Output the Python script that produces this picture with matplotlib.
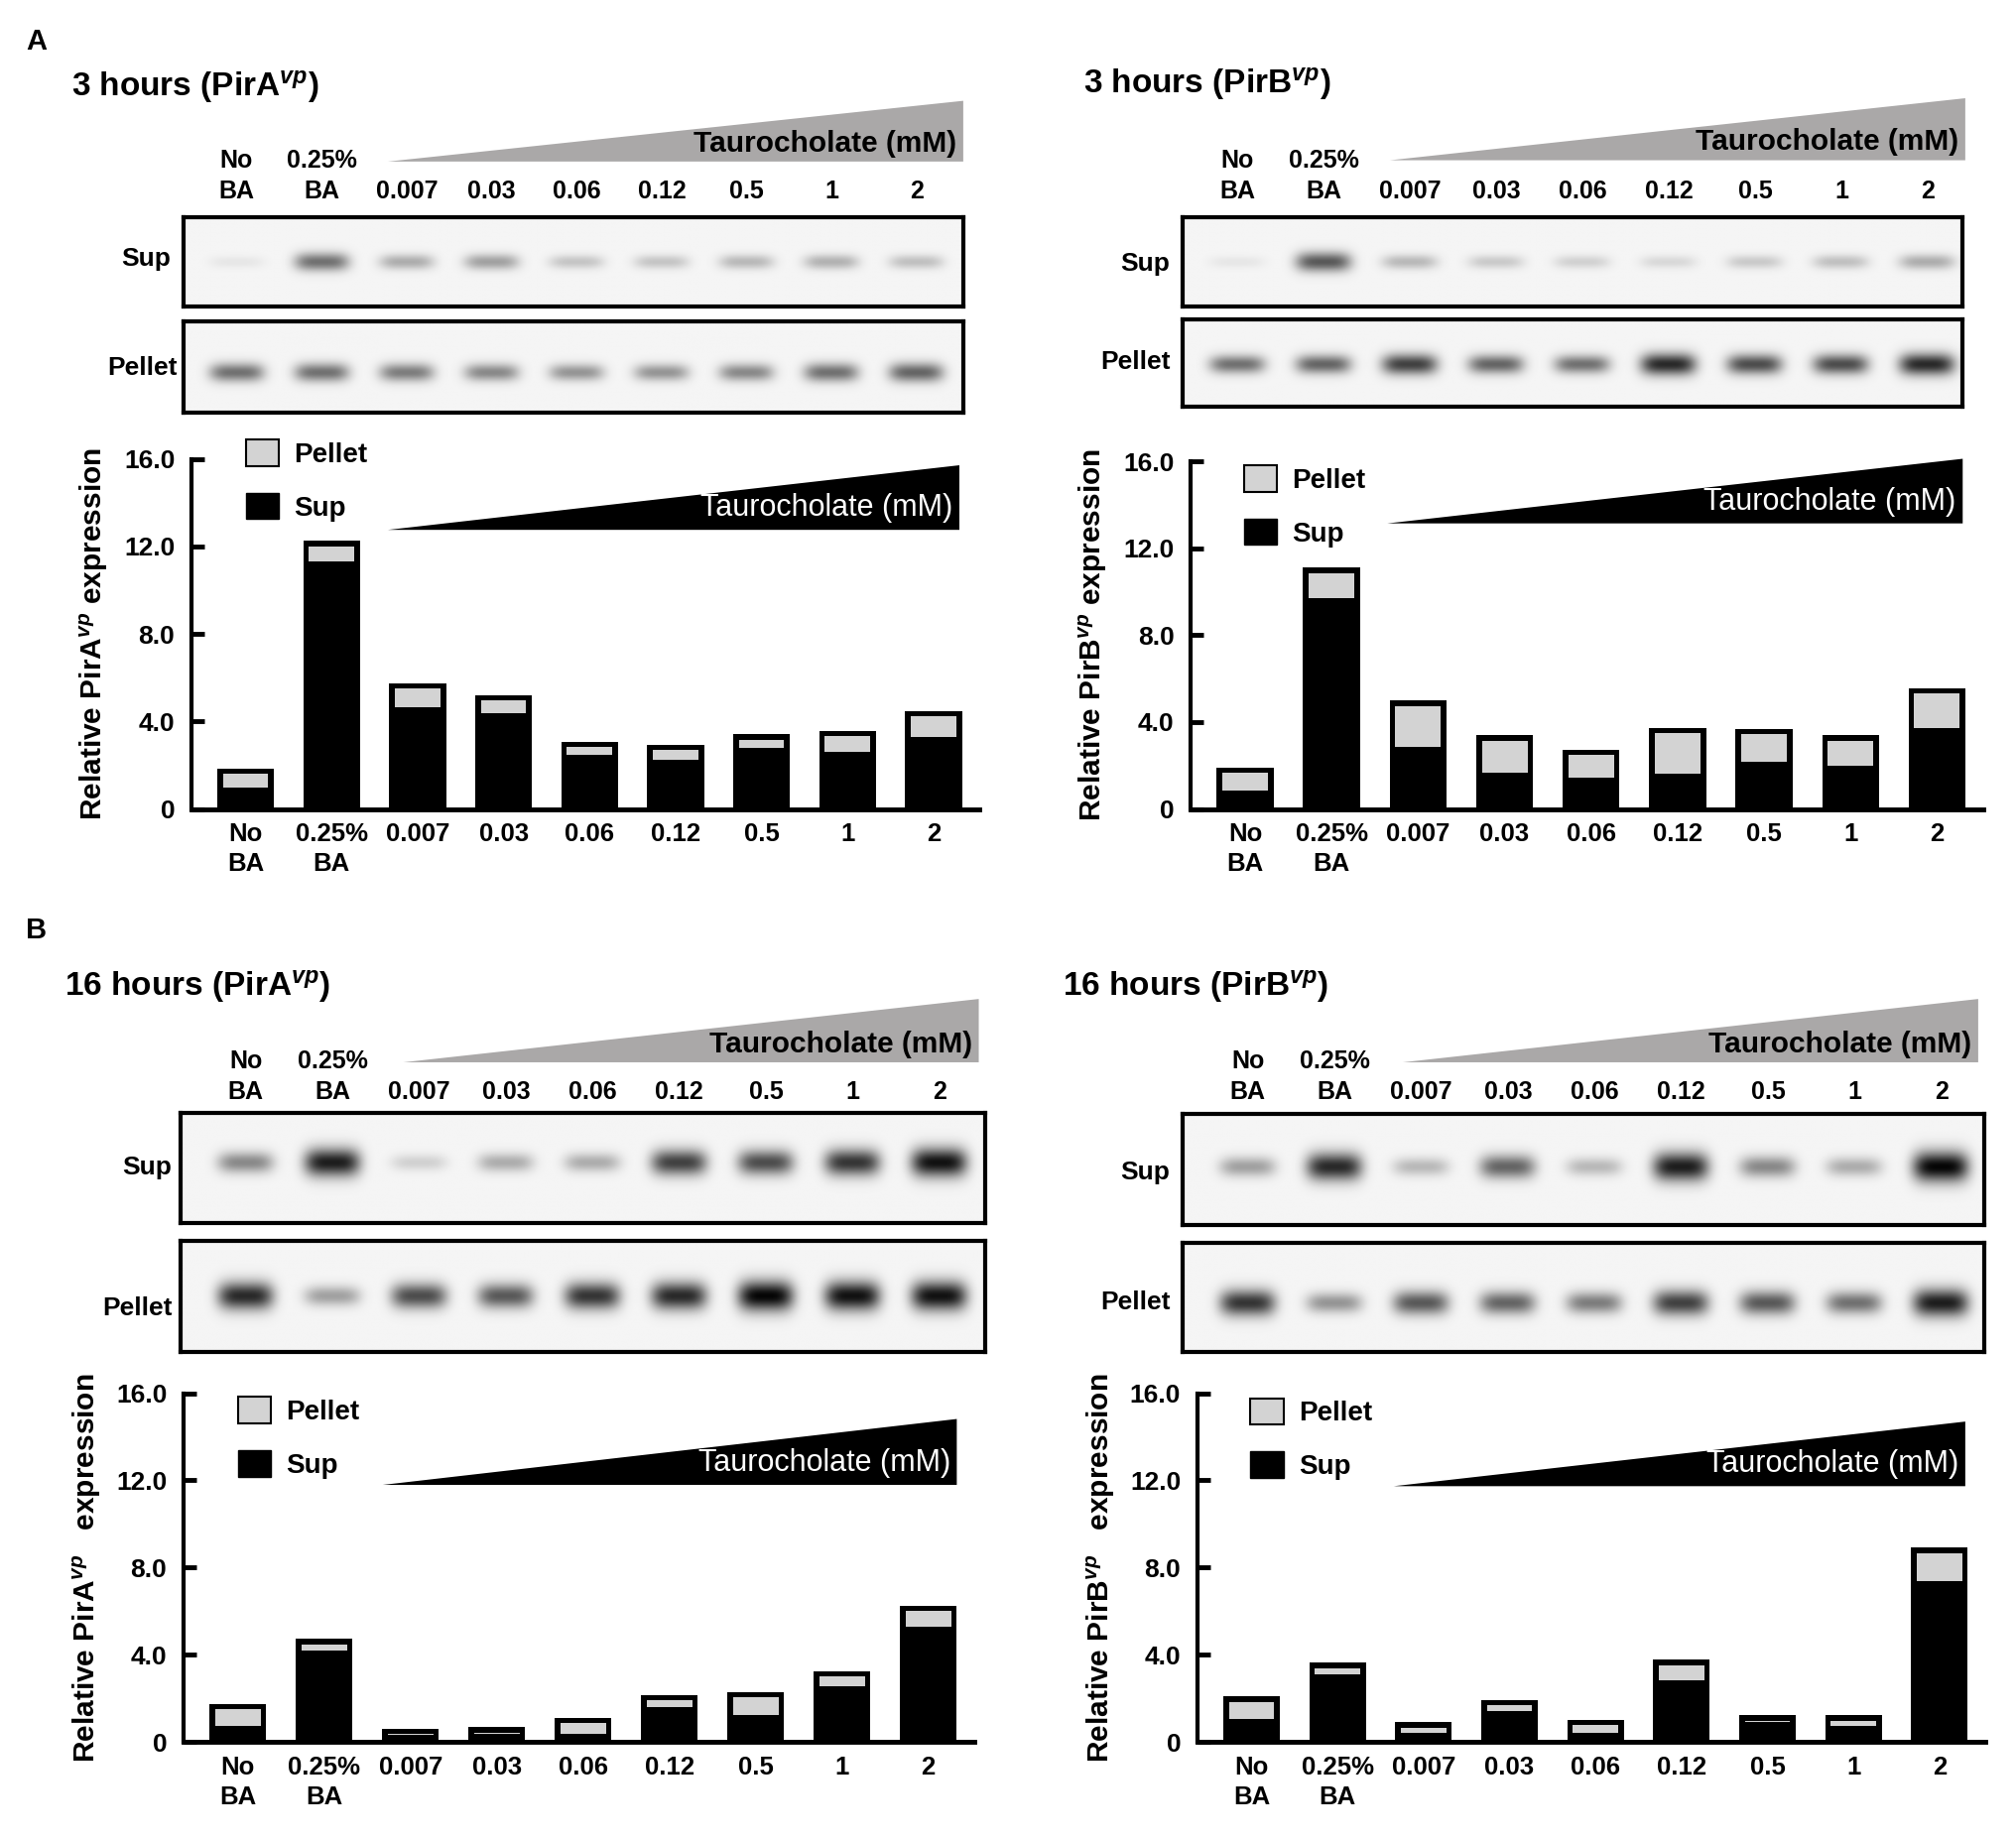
import numpy as np
import matplotlib
matplotlib.use('Agg')
import matplotlib.pyplot as plt
from matplotlib.patches import Polygon, Patch

plt.rcParams['font.family'] = ['Liberation Sans', 'DejaVu Sans']
plt.rcParams['font.weight'] = 'bold'
plt.rcParams['mathtext.fontset'] = 'custom'
plt.rcParams['mathtext.rm'] = 'Liberation Sans:bold'
plt.rcParams['mathtext.it'] = 'Liberation Sans:italic:bold'
plt.rcParams['mathtext.bf'] = 'Liberation Sans:bold'

# lanes / categories
lanes = ['No\nBA', '0.25%\nBA', '0.007', '0.03', '0.06', '0.12', '0.5', '1', '2']

# relative expression, stacked: Sup (black) under Pellet (grey)
sup_a3 = [0.97, 11.32, 4.63, 4.37, 2.48, 2.26, 2.77, 2.60, 3.29]
pel_a3 = [0.88, 0.94, 1.11, 0.83, 0.60, 0.68, 0.65, 0.98, 1.19]
sup_b3 = [0.87, 9.70, 2.85, 1.68, 1.44, 1.62, 2.17, 1.97, 3.74]
pel_b3 = [1.03, 1.40, 2.14, 1.71, 1.29, 2.12, 1.51, 1.42, 1.83]
sup_a16 = [0.76, 4.20, 0.33, 0.38, 0.37, 1.60, 1.25, 2.57, 5.31]
pel_a16 = [1.00, 0.53, 0.28, 0.31, 0.74, 0.57, 1.04, 0.68, 0.95]
sup_b16 = [1.05, 3.09, 0.43, 1.43, 0.42, 2.82, 0.92, 0.74, 7.38]
pel_b16 = [1.04, 0.56, 0.49, 0.51, 0.60, 0.95, 0.31, 0.49, 1.54]

# western blot band darkness per lane (0 = nothing, 1 = saturated)
blot_sup_a3 = [0.06, 0.55, 0.30, 0.35, 0.20, 0.20, 0.25, 0.28, 0.22]
blot_pel_a3 = [0.55, 0.55, 0.50, 0.45, 0.40, 0.40, 0.45, 0.55, 0.60]
blot_sup_b3 = [0.06, 0.65, 0.25, 0.18, 0.15, 0.12, 0.18, 0.22, 0.30]
blot_pel_b3 = [0.55, 0.60, 0.75, 0.60, 0.55, 0.85, 0.70, 0.70, 0.85]
blot_sup_a16 = [0.45, 0.90, 0.15, 0.30, 0.30, 0.75, 0.70, 0.80, 0.95]
blot_pel_a16 = [0.85, 0.35, 0.70, 0.65, 0.80, 0.85, 1.00, 0.95, 0.95]
blot_sup_b16 = [0.35, 0.85, 0.25, 0.60, 0.25, 0.90, 0.45, 0.30, 1.00]
blot_pel_b16 = [0.80, 0.40, 0.65, 0.60, 0.50, 0.75, 0.65, 0.55, 0.90]

yticks = [0, 4, 8, 12, 16]
ytick_labels = ['0', '4.0', '8.0', '12.0', '16.0']

# layout, in pixels of a 1560 x 1423 frame
W, H = 1560, 1423
panels = [
    dict(title='3 hours (PirA$^{vp}$)', tx=55, ty=67, lane0=183, step=65.75, lab_y=157,
         sup_box=(142, 168, 745, 237), pel_box=(142, 249, 745, 319), sup_y=0.5, pel_y=0.56,
         sup_lab=(132, 200), pel_lab=(137, 285), tri=(300, 745, 78, 125),
         bar0=190, bstep=66.5, bar_y=(355, 626), btri=(300, 742, 360, 410), leg=(190, 340),
         ylab_x=85, ylabel='Relative PirA$^{vp}$ expression',
         sup=sup_a3, pel=pel_a3, bsup=blot_sup_a3, bpel=blot_pel_a3),
    dict(title='3 hours (PirB$^{vp}$)', tx=838, ty=65, lane0=957, step=66.75, lab_y=157,
         sup_box=(915, 168, 1518, 237), pel_box=(915, 247, 1518, 315), sup_y=0.5, pel_y=0.52,
         sup_lab=(905, 204), pel_lab=(905, 280), tri=(1075, 1520, 76, 124),
         bar0=963, bstep=66.9, bar_y=(357, 626), btri=(1073, 1518, 355, 405), leg=(962, 360),
         ylab_x=858, ylabel='Relative PirB$^{vp}$ expression',
         sup=sup_b3, pel=pel_b3, bsup=blot_sup_b3, bpel=blot_pel_b3),
    dict(title='16 hours (PirA$^{vp}$)', tx=50, ty=763, lane0=190, step=67.1, lab_y=854,
         sup_box=(140, 861, 762, 946), pel_box=(140, 960, 762, 1046), sup_y=0.45, pel_y=0.5,
         sup_lab=(133, 903), pel_lab=(133, 1012), tri=(312, 757, 773, 822),
         bar0=184, bstep=66.75, bar_y=(1078, 1348), btri=(296, 740, 1098, 1149), leg=(184, 1081),
         ylab_x=80, ylabel='Relative PirA$^{vp}$   expression',
         sup=sup_a16, pel=pel_a16, bsup=blot_sup_a16, bpel=blot_pel_a16),
    dict(title='16 hours (PirB$^{vp}$)', tx=822, ty=763, lane0=965, step=67.1, lab_y=854,
         sup_box=(915, 862, 1535, 948), pel_box=(915, 962, 1535, 1046), sup_y=0.48, pel_y=0.55,
         sup_lab=(905, 907), pel_lab=(905, 1008), tri=(1085, 1530, 773, 822),
         bar0=968, bstep=66.5, bar_y=(1078, 1348), btri=(1078, 1520, 1100, 1150), leg=(967, 1082),
         ylab_x=864, ylabel='Relative PirB$^{vp}$   expression',
         sup=sup_b16, pel=pel_b16, bsup=blot_sup_b16, bpel=blot_pel_b16),
]

fig = plt.figure(figsize=(20.33, 18.54), dpi=100)


def add_ax(x0, y0, x1, y1, **kw):
    return fig.add_axes([x0 / W, 1 - y1 / H, (x1 - x0) / W, (y1 - y0) / H], **kw)


def draw_blot(box, dark, yc, lane0, step):
    x0, y0, x1, y1 = box
    ax = add_ax(x0, y0, x1, y1)
    xs = np.linspace(x0, x1, 700)
    ys = np.linspace(0, 1, 160)
    X, Y = np.meshgrid(xs, ys)
    img = np.zeros_like(X)
    for i, d in enumerate(dark):
        cx = lane0 + i * step
        sy = 0.045 + 0.05 * d
        img += d * np.exp(-((X - cx) / (0.32 * step)) ** 4) * np.exp(-0.5 * ((Y - yc) / sy) ** 2)
    ax.imshow(0.96 - 0.94 * np.clip(img, 0, 1), cmap='gray', vmin=0, vmax=1,
              extent=(x0, x1, 1, 0), aspect='auto', interpolation='bilinear')
    ax.set_xlim(x0, x1)
    ax.set_ylim(1, 0)
    ax.set_xticks([])
    ax.set_yticks([])
    for s in ax.spines.values():
        s.set_linewidth(3)


def draw_bars(p):
    step = p['bstep']
    x0 = p['bar0'] - 0.63 * step
    x1 = p['bar0'] + 8.53 * step
    ya, yb = p['bar_y']
    ax = add_ax(x0, ya, x1, yb)
    x = np.arange(len(lanes))
    sup = np.array(p['sup'])
    pel = np.array(p['pel'])
    ax.bar(x, sup + pel, width=0.66, color='black', zorder=2)
    ax.bar(x, np.maximum(pel - 0.25, 0.03), bottom=sup, width=0.66 * 0.8,
           color='#d3d3d3', zorder=3)
    ax.set_xlim(-0.63, 8.53)
    ax.set_ylim(0, 16)
    ax.set_yticks(yticks, ytick_labels)
    ax.set_xticks(x, lanes, linespacing=1.3)
    ax.tick_params(axis='y', direction='in', length=9, width=3.5, pad=12, labelsize=19)
    ax.tick_params(axis='x', length=0, pad=10, labelsize=18.5)
    for s in ['top', 'right']:
        ax.spines[s].set_visible(False)
    ax.spines['left'].set_linewidth(3)
    ax.spines['bottom'].set_linewidth(3.5)
    ax.set_ylabel(p['ylabel'], fontsize=21.5, fontweight='bold')
    ax.yaxis.set_label_coords((p['ylab_x'] - x0) / (x1 - x0), 0.5)
    handles = [Patch(facecolor='#d3d3d3', edgecolor='black', lw=1.5, label='Pellet'),
               Patch(facecolor='black', edgecolor='black', label='Sup')]
    lx, ly = p['leg']
    ax.legend(handles=handles, loc='upper left',
              bbox_to_anchor=((lx - x0) / (x1 - x0), 1 + (ya - ly) / (yb - ya)),
              frameon=False, borderpad=0, borderaxespad=0, handlelength=1.2,
              handleheight=1.1, handletextpad=0.55, labelspacing=0.9, fontsize=20)


for p in panels:
    draw_blot(p['sup_box'], p['bsup'], p['sup_y'], p['lane0'], p['step'])
    draw_blot(p['pel_box'], p['bpel'], p['pel_y'], p['lane0'], p['step'])
    draw_bars(p)

# overlay for titles, lane labels and concentration wedges
ov = fig.add_axes([0, 0, 1, 1], zorder=5)
ov.set_xlim(0, W)
ov.set_ylim(H, 0)
ov.axis('off')

ov.text(20, 32, 'A', fontsize=21, va='center', ha='left')
ov.text(20, 720, 'B', fontsize=21, va='center', ha='left')

for p in panels:
    ov.text(p['tx'], p['ty'], p['title'], fontsize=24, va='center', ha='left')
    for i, lab in enumerate(lanes):
        ov.text(p['lane0'] + i * p['step'], p['lab_y'], lab, fontsize=18, ha='center',
                va='bottom', linespacing=1.35)
    ov.text(p['sup_lab'][0], p['sup_lab'][1], 'Sup', fontsize=19, ha='right', va='center')
    ov.text(p['pel_lab'][0], p['pel_lab'][1], 'Pellet', fontsize=19, ha='right', va='center')
    xa, xb, yt, yb = p['tri']
    ov.add_patch(Polygon([(xa, yb), (xb, yt), (xb, yb)], closed=True, color='#aaa8a8', lw=0))
    ov.text(xb - 5, yb - 14, 'Taurocholate (mM)', fontsize=21.5, ha='right', va='center')
    xa, xb, yt, yb = p['btri']
    ov.add_patch(Polygon([(xa, yb), (xb, yt), (xb, yb)], closed=True, color='black', lw=0))
    ov.text(xb - 5, yb - 17, 'Taurocholate (mM)', fontsize=22, ha='right', va='center',
            color='white', weight='normal')

fig.savefig('out.png', dpi=100)
